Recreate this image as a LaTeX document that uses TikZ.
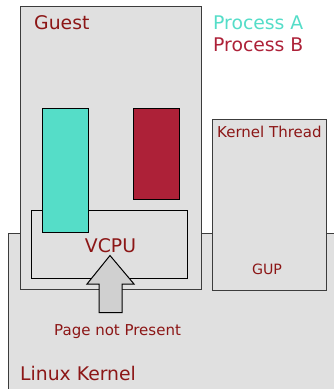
\documentclass[tikz,border=0pt]{standalone}
\usepackage{fontspec}
\setmainfont{DejaVu Sans}
\definecolor{txtred}{RGB}{140,22,22}
\definecolor{teal1}{RGB}{85,221,200}
\definecolor{crim}{RGB}{173,33,56}
\definecolor{boxgray}{RGB}{224,224,224}
\definecolor{arrgray}{RGB}{208,208,208}
\definecolor{edge}{RGB}{60,60,60}
\tikzset{
  region/.style={draw=edge, fill=boxgray, line width=1pt},
  proc/.style={draw=black, line width=1pt},
  bigtxt/.style={font=\fontsize{18.8}{20}\selectfont, text=txtred, inner sep=0pt, anchor=base west},
  smalltxt/.style={font=\fontsize{15}{17}\selectfont, text=txtred, inner sep=0pt, anchor=base west},
}
\begin{document}
\begin{tikzpicture}[x=1pt,y=-1pt]
\useasboundingbox (0,0) rectangle (334,389);
% Linux kernel region (runs off page)
\path[region] (8,233) rectangle (340,395);
\coordinate (lk) at (8,233);
% Guest
\path[region] (20,6) rectangle (201,289.5) coordinate (guestbr);
% Kernel thread
\path[region] (212,119) rectangle (326,290);
% VCPU box
\draw[line width=0.8pt, black] (31,210) rectangle (187,278);
% processes
\path[proc, fill=teal1] (42,108) rectangle (88,232.5);
\path[proc, fill=crim] (133,108) rectangle (179,199);
% arrow
\path[draw=black, fill=arrgray, line width=1pt, line join=miter]
  (110,255.5) -- (134,284) -- (122,284) -- (122,312.5) -- (99,312.5) -- (99,284) -- (87,284) -- cycle;
% labels
\node[bigtxt] (guest) at (34,29) {Guest};
\node[bigtxt, text=teal1] (pa) at (213,29) {Process A};
\node[bigtxt, text=crim] (pb) at (213,51.5) {Process B};
\node[smalltxt] (kt) at (217,137) {Kernel Thread};
\node[font=\fontsize{14.2}{16}\selectfont, text=txtred, inner sep=0pt, anchor=base] (gup) at (267,274) {GUP};
\node[bigtxt, anchor=base] (vcpu) at (110.5,252) {VCPU};
\node[smalltxt] (pnp) at (54,335.5) {Page not Present};
\node[bigtxt] (linux) at (20,380.5) {Linux Kernel};
\end{tikzpicture}
\end{document}
